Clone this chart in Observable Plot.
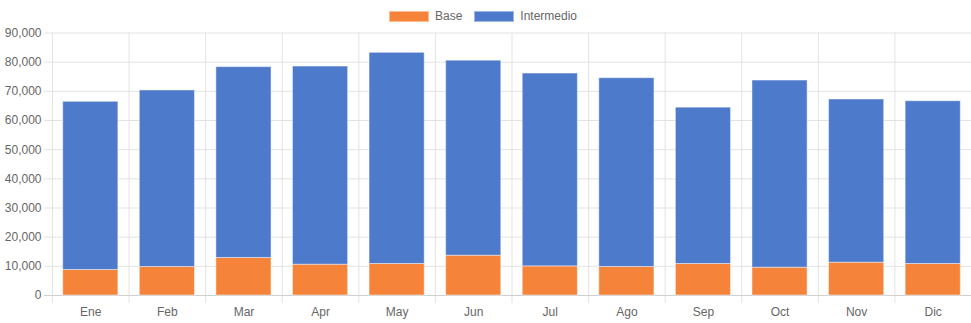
<!DOCTYPE html>
<html>
<head>
<meta charset="utf-8">
<script src="https://cdn.jsdelivr.net/npm/d3@7"></script>
<script src="https://cdn.jsdelivr.net/npm/@observablehq/plot@0.6"></script>
<style>
  body { margin: 0; background: #fff; font-family: "Liberation Sans", Arial, sans-serif; }
  #legend { height: 24px; display: flex; justify-content: center; font-size: 12px; color: #666; padding-top: 9px; padding-right: 5px; box-sizing: border-box; align-items: flex-start; }
  #legend .sw { width: 40px; height: 11px; margin-top: 2px; margin-right: 6px; box-sizing: border-box; border: 1px solid rgba(255,255,255,0.45); }
  #legend .it { display: flex; align-items: flex-start; margin: 0 6px; }
  #chart svg { display: block; }
</style>
</head>
<body>
<div id="legend"></div>
<div id="chart"></div>
<script>
const months = ["Ene","Feb","Mar","Apr","May","Jun","Jul","Ago","Sep","Oct","Nov","Dic"];
const seriesNames = ["Base", "Intermedio"];
const seriesColors = ["#f5843a", "#4e7acb"];
const baseValues = [8750, 9780, 12870, 10570, 10810, 13660, 9990, 9780, 10810, 9540, 11260, 10810];
const totalValues = [66400, 70300, 78300, 78500, 83200, 80500, 76100, 74500, 64400, 73700, 67200, 66600];
const intermedioValues = totalValues.map((t, i) => t - baseValues[i]);
const yTicks = [0, 10000, 20000, 30000, 40000, 50000, 60000, 70000, 80000, 90000];

const data = [];
months.forEach((m, i) => data.push({month: m, series: "Base", value: baseValues[i]}));
months.forEach((m, i) => data.push({month: m, series: "Intermedio", value: intermedioValues[i]}));

// legend
const legend = document.getElementById("legend");
seriesNames.forEach((s, i) => {
  const it = document.createElement("div");
  it.className = "it";
  const sw = document.createElement("div");
  sw.className = "sw";
  sw.style.background = seriesColors[i];
  const tx = document.createElement("span");
  tx.textContent = s;
  it.appendChild(sw); it.appendChild(tx);
  legend.appendChild(it);
});

const W = 971, ML = 52, MR = 0;
const step = (W - ML - MR) / months.length;
const gridColor = "#e3e3e3";

const chart = Plot.plot({
  width: W,
  height: 299,
  marginLeft: ML,
  marginRight: MR,
  marginTop: 8.5,
  marginBottom: 28,
  style: {fontFamily: "'Liberation Sans', Arial, sans-serif", fontSize: "12px", color: "#666", background: "#fff"},
  x: {domain: months, paddingInner: 0.28, paddingOuter: 0.14, round: false, label: null},
  y: {domain: [0, 90000], label: null},
  color: {domain: seriesNames, range: seriesColors},
  marks: [
    Plot.ruleY(yTicks.slice(1), {stroke: gridColor, insetLeft: -8}),
    Plot.ruleX(months, {x: d => d, dx: -step / 2, stroke: gridColor, insetBottom: -8}),
    Plot.ruleY([0], {stroke: "#cfcfcf", insetLeft: -8}),
    Plot.barY(data, {x: "month", y: "value", fill: "series", stroke: "white", strokeOpacity: 0.45, strokeWidth: 1}),
    Plot.axisY({ticks: yTicks, tickSize: 0, tickPadding: 11, tickFormat: d3.format(","), fill: "#666"}),
    Plot.axisX({tickSize: 0, tickPadding: 12, fill: "#666"})
  ]
});
document.getElementById("chart").appendChild(chart);
</script>
</body>
</html>
